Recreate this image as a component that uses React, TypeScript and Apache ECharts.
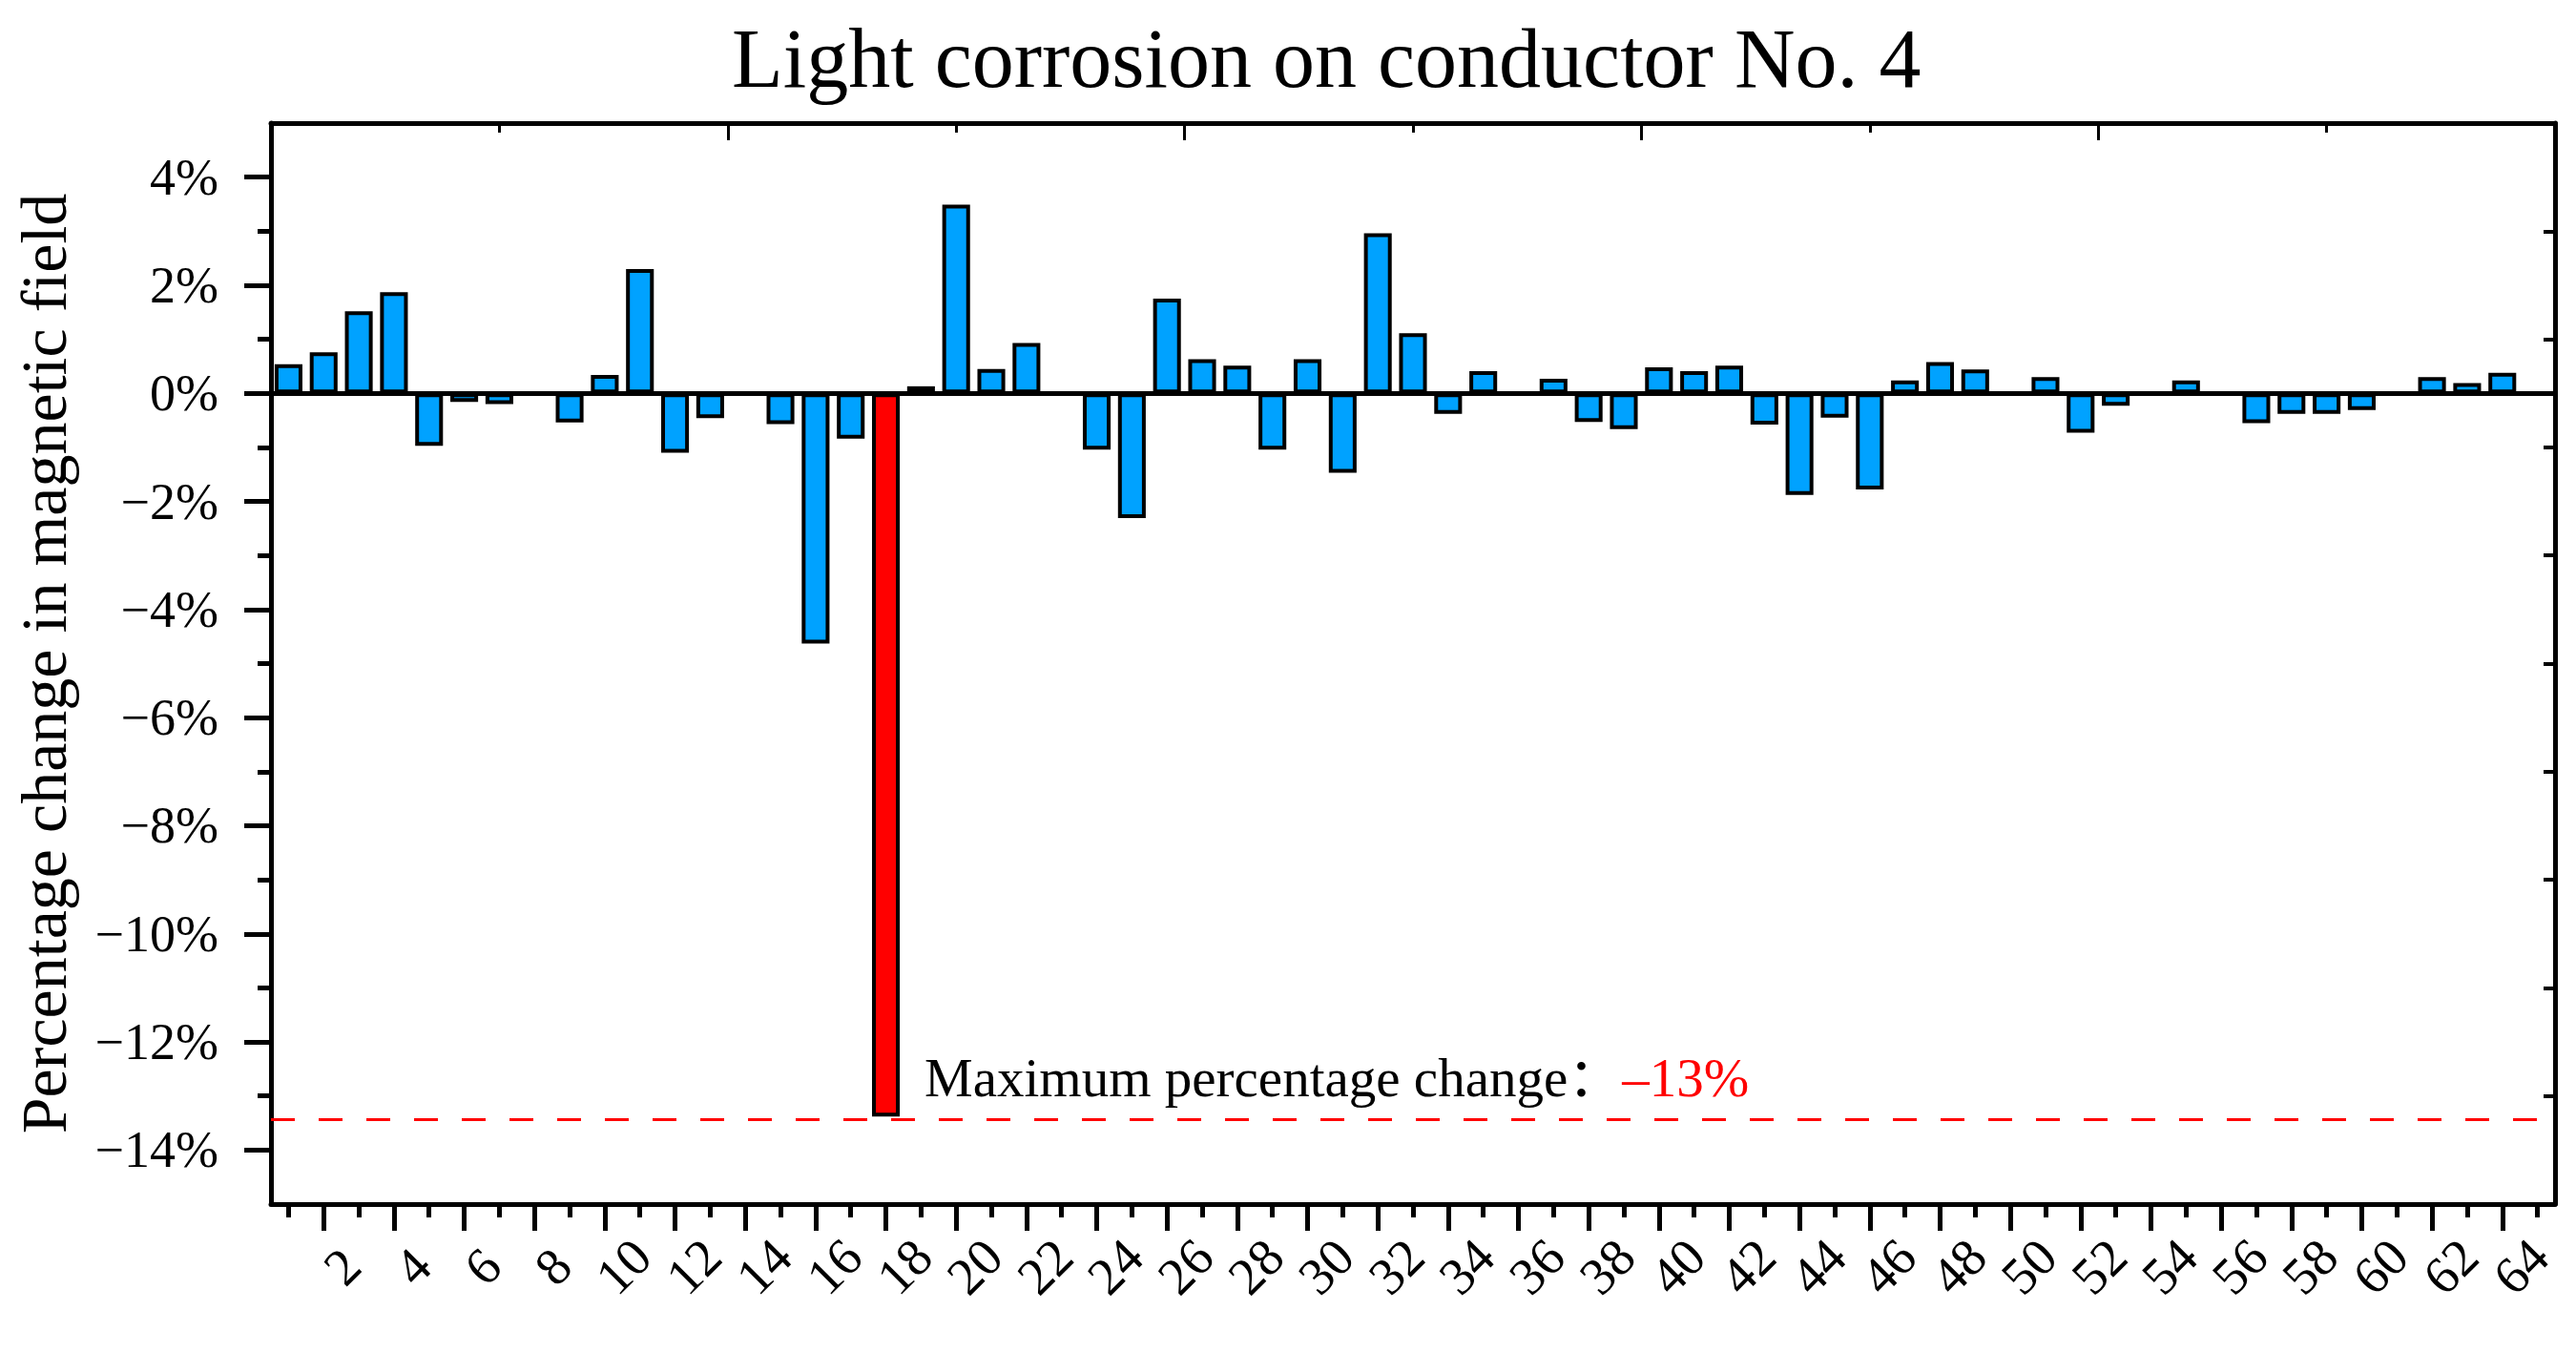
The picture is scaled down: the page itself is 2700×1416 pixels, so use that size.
import * as echarts from "echarts";
import { useEffect, useRef } from "react";

const SERIF = '"Liberation Serif", "Times New Roman", "Noto Sans CJK SC", serif';

// conductor positions 1..64, plus one empty slot at the right end of the axis
const categories = Array.from({ length: 65 }, (_, i) => String(i + 1));

// percentage change per position (null = no bar)
const changes: (number | null)[] = [
  0.54, 0.76, 1.52, 1.87, -0.97, -0.16, -0.2, null, -0.54, 0.34,
  2.3, -1.1, -0.46, null, -0.57, -4.63, -0.84, -13.38, 0.13, 3.49,
  0.45, 0.93, null, -1.04, -2.31, 1.75, 0.63, 0.51, -1.04, 0.63,
  -1.47, 2.96, 1.11, -0.38, 0.41, null, 0.27, -0.53, -0.66, 0.48,
  0.41, 0.51, -0.58, -1.88, -0.45, -1.78, 0.24, 0.58, 0.44, null,
  0.3, -0.73, -0.23, null, 0.24, null, -0.55, -0.38, -0.38, -0.31,
  null, 0.3, 0.19, 0.38,
];

const maxIndex = 17;
const maxLine = -13.43;
const maxLabel = "Maximum percentage change：";
const maxValueText = "–13%";

const yMajor = [4, 2, 0, -2, -4, -6, -8, -10, -12, -14];
const yMinor = [3, 1, -1, -3, -5, -7, -9, -11, -13];
const topMajor = [0, 2, 4, 6, 8, 10];
const topMinor = [1, 3, 5, 7, 9];

const BLUE = "#00A2FF";
const RED = "#FF0000";

export default function App() {
  const ref = useRef<HTMLDivElement | null>(null);

  useEffect(() => {
    if (!ref.current) return;
    document.body.style.margin = "0";

    const chart = echarts.init(ref.current, undefined, { renderer: "svg" });

    const barData = changes.map((v, i) =>
      i === maxIndex ? { value: v, itemStyle: { color: RED } } : v,
    );

    const black = { color: "#000" };

    chart.setOption({
      animation: false,
      backgroundColor: "#fff",
      title: {
        text: "Light corrosion on conductor No. 4",
        left: 762,
        top: 12,
        textStyle: { fontSize: 88, fontWeight: "normal", fontFamily: SERIF, color: "#000" },
      },
      grid: { left: 284, right: 22, top: 129, bottom: 154 },
      xAxis: [
        {
          type: "category",
          data: categories,
          position: "bottom",
          boundaryGap: true,
          axisLine: { show: true, onZero: false, lineStyle: { ...black, width: 5 } },
          axisTick: {
            show: true,
            alignWithLabel: true,
            interval: 0,
            length: 14,
            lineStyle: { ...black, width: 5 },
          },
          axisLabel: {
            // every category gets a slot, only even numbers are written
            interval: 0,
            formatter: (value: string, index: number) => ((index + 1) % 2 === 0 ? value : ""),
            rotate: 45,
            align: "center",
            verticalAlign: "top",
            margin: 46,
            fontSize: 55,
            fontFamily: SERIF,
            color: "#000",
          },
          splitLine: { show: false },
        },
        {
          type: "category",
          data: categories,
          position: "bottom",
          axisLine: { show: false, onZero: false },
          axisTick: {
            show: true,
            alignWithLabel: true,
            interval: (i: number) => (i + 1) % 2 === 0,
            length: 28,
            lineStyle: { ...black, width: 5 },
          },
          axisLabel: { show: false },
          splitLine: { show: false },
        },
        {
          type: "value",
          position: "top",
          min: 0,
          max: 10,
          interval: 1,
          axisLine: { show: true, onZero: false, lineStyle: { ...black, width: 5 } },
          axisTick: {
            show: true,
            inside: true,
            customValues: topMajor,
            length: 18,
            lineStyle: { ...black, width: 3 },
          },
          axisLabel: { show: false },
          splitLine: { show: false },
        },
        {
          type: "value",
          position: "top",
          min: 0,
          max: 10,
          interval: 1,
          axisLine: { show: false, onZero: false },
          axisTick: {
            show: true,
            inside: true,
            customValues: topMinor,
            length: 10,
            lineStyle: { ...black, width: 3 },
          },
          axisLabel: { show: false },
          splitLine: { show: false },
        },
      ],
      yAxis: [
        {
          type: "value",
          position: "left",
          min: -15,
          max: 5,
          interval: 1,
          axisLine: { show: true, onZero: false, lineStyle: { ...black, width: 5 } },
          axisTick: { show: true, customValues: yMajor, length: 28, lineStyle: { ...black, width: 5 } },
          axisLabel: {
            customValues: yMajor,
            formatter: (v: number) => (v < 0 ? "\u2212" + Math.abs(v) : String(v)) + "%",
            margin: 55,
            fontSize: 54,
            fontFamily: SERIF,
            color: "#000",
          },
          splitLine: { show: false },
          name: "Percentage change in magnetic field",
          nameLocation: "middle",
          nameRotate: 90,
          nameGap: 204,
          nameTextStyle: { fontSize: 68, fontFamily: SERIF, color: "#000" },
        },
        {
          type: "value",
          position: "left",
          min: -15,
          max: 5,
          interval: 1,
          axisLine: { show: false, onZero: false },
          axisTick: { show: true, customValues: yMinor, length: 14, lineStyle: { ...black, width: 5 } },
          axisLabel: { show: false },
          splitLine: { show: false },
        },
        {
          type: "value",
          position: "right",
          min: -15,
          max: 5,
          interval: 1,
          axisLine: { show: true, onZero: false, lineStyle: { ...black, width: 5 } },
          axisTick: {
            show: true,
            inside: true,
            customValues: yMinor,
            length: 12,
            lineStyle: { ...black, width: 4 },
          },
          axisLabel: { show: false },
          splitLine: { show: false },
        },
      ],
      series: [
        {
          type: "bar",
          xAxisIndex: 0,
          yAxisIndex: 0,
          data: barData,
          barWidth: "79%",
          itemStyle: { color: BLUE, borderColor: "#000", borderWidth: 4 },
          markLine: {
            silent: true,
            symbol: ["none", "none"],
            label: { show: false },
            data: [
              { yAxis: 0, lineStyle: { color: "#000", width: 5, type: "solid" } },
              { yAxis: maxLine, lineStyle: { color: RED, width: 3, type: [25, 25] } },
            ],
          },
          markPoint: {
            silent: true,
            symbol: "circle",
            symbolSize: 1,
            itemStyle: { color: "rgba(0,0,0,0)" },
            data: [{ coord: [categories[maxIndex], maxLine] }],
            label: {
              show: true,
              position: "right",
              distance: 0,
              offset: [40, -44],
              formatter: `{a|${maxLabel}}{b|${maxValueText}}`,
              rich: {
                a: { fontSize: 57, fontFamily: SERIF, color: "#000" },
                b: { fontSize: 57, fontFamily: SERIF, color: RED },
              },
            },
          },
        },
      ],
    });

    return () => {
      chart.dispose();
    };
  }, []);

  return <div ref={ref} style={{ width: 2700, height: 1416 }} />;
}
